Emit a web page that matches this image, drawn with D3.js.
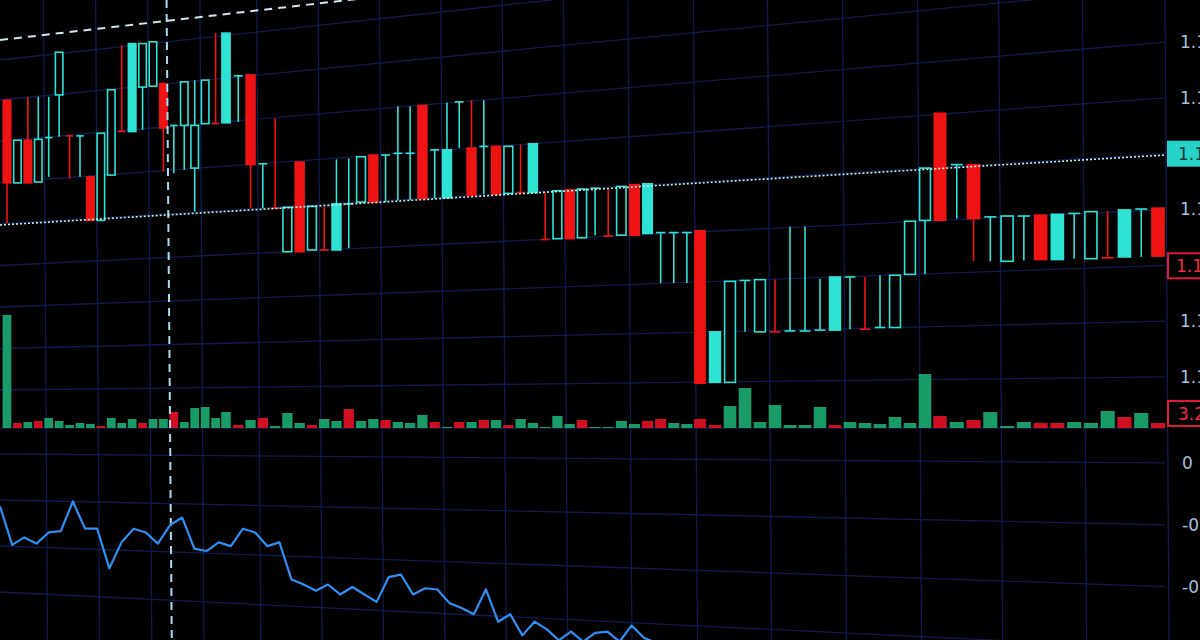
<!DOCTYPE html>
<html>
<head>
<meta charset="utf-8">
<script src="https://cdn.jsdelivr.net/npm/d3@7.9.0/dist/d3.min.js"></script>
<style>
  html, body { margin: 0; background: #000; overflow: hidden; }
  svg { display: block; }
</style>
</head>
<body>
<svg id="chart" width="1200" height="640"></svg>
<script>
// candles: [open, high, low, close]
const candles = [
  [1.1385,1.1385,1.1244,1.1290],[1.1290,1.1339,1.1290,1.1339],[1.1339,1.1389,1.1290,1.1290],[1.1291,1.1389,1.1291,1.1340],
  [1.1342,1.1389,1.1297,1.1342],[1.1391,1.1440,1.1343,1.1440],[1.1344,1.1344,1.1295,1.1344],[1.1344,1.1344,1.1297,1.1344],
  [1.1297,1.1297,1.1247,1.1247],[1.1247,1.1347,1.1247,1.1347],[1.1299,1.1397,1.1299,1.1397],[1.1349,1.1448,1.1349,1.1349],
  [1.1349,1.1450,1.1349,1.1450],[1.1400,1.1450,1.1351,1.1450],[1.1401,1.1452,1.1401,1.1452],[1.1404,1.1404,1.1303,1.1353],
  [1.1356,1.1356,1.1301,1.1356],[1.1356,1.1406,1.1305,1.1406],[1.1307,1.1408,1.1257,1.1356],[1.1358,1.1408,1.1358,1.1408],
  [1.1358,1.1462,1.1358,1.1358],[1.1359,1.1462,1.1359,1.1462],[1.1413,1.1413,1.1360,1.1413],[1.1414,1.1414,1.1261,1.1311],
  [1.1312,1.1312,1.1261,1.1312],[1.1261,1.1364,1.1261,1.1261],[1.1211,1.1262,1.1211,1.1262],[1.1314,1.1314,1.1211,1.1211],
  [1.1213,1.1263,1.1213,1.1263],[1.1213,1.1263,1.1213,1.1213],[1.1213,1.1317,1.1213,1.1266],[1.1266,1.1318,1.1215,1.1266],
  [1.1268,1.1320,1.1268,1.1320],[1.1322,1.1322,1.1268,1.1268],[1.1322,1.1322,1.1268,1.1322],[1.1324,1.1378,1.1270,1.1324],
  [1.1324,1.1378,1.1270,1.1324],[1.1379,1.1379,1.1272,1.1272],[1.1328,1.1328,1.1272,1.1328],[1.1273,1.1382,1.1273,1.1328],
  [1.1383,1.1383,1.1330,1.1383],[1.1330,1.1385,1.1276,1.1276],[1.1332,1.1385,1.1277,1.1332],[1.1332,1.1332,1.1277,1.1277],
  [1.1278,1.1332,1.1278,1.1332],[1.1279,1.1334,1.1279,1.1279],[1.1279,1.1335,1.1279,1.1335],[1.1225,1.1280,1.1225,1.1225],
  [1.1226,1.1281,1.1226,1.1281],[1.1282,1.1282,1.1226,1.1226],[1.1227,1.1283,1.1227,1.1283],[1.1284,1.1284,1.1230,1.1284],
  [1.1229,1.1284,1.1229,1.1229],[1.1230,1.1286,1.1230,1.1286],[1.1288,1.1288,1.1230,1.1230],[1.1232,1.1289,1.1232,1.1289],
  [1.1233,1.1233,1.1175,1.1233],[1.1233,1.1233,1.1175,1.1233],[1.1233,1.1233,1.1175,1.1233],[1.1235,1.1235,1.1060,1.1060],
  [1.1061,1.1119,1.1061,1.1119],[1.1061,1.1177,1.1061,1.1177],[1.1178,1.1178,1.1119,1.1178],[1.1119,1.1179,1.1119,1.1179],
  [1.1119,1.1179,1.1119,1.1119],[1.1120,1.1240,1.1120,1.1120],[1.1120,1.1240,1.1120,1.1120],[1.1121,1.1180,1.1121,1.1121],
  [1.1121,1.1182,1.1121,1.1182],[1.1182,1.1182,1.1122,1.1182],[1.1122,1.1182,1.1122,1.1122],[1.1124,1.1184,1.1124,1.1124],
  [1.1124,1.1184,1.1124,1.1184],[1.1185,1.1246,1.1185,1.1246],[1.1247,1.1307,1.1185,1.1307],[1.1370,1.1370,1.1247,1.1247],
  [1.1311,1.1311,1.1249,1.1311],[1.1311,1.1311,1.1200,1.1249],[1.1251,1.1251,1.1200,1.1251],[1.1200,1.1252,1.1200,1.1252],
  [1.1252,1.1252,1.1201,1.1252],[1.1253,1.1253,1.1202,1.1202],[1.1202,1.1254,1.1202,1.1254],[1.1255,1.1255,1.1203,1.1255],
  [1.1203,1.1257,1.1203,1.1257],[1.1204,1.1258,1.1204,1.1204],[1.1205,1.1259,1.1205,1.1259],[1.1260,1.1260,1.1205,1.1260],
  [1.1261,1.1261,1.1206,1.1206]
];
// U hollow up, F filled up, D down, T cyan doji, R red doji
const kinds = "DUDUTURTDUURFUUDTUUURFTDTRUDURFTUDTTTDTFTDTDURFRUDUTRUDFTTTDFUTURTTTFTRTUUUDTDTUTDFTURFTD";

const volumes = [
  113,5,6,7,10,7,3,5,4,2,10,5,9,5,9,9,16,6,20,21,10,16,3,8,10,2,15,5,3,9,7,19,7,9,8,6,5,13,6,1,6,6,8,8,3,9,5,1,12,4,8,1,
  1,7,4,7,9,5,4,9,3,22,40,6,23,3,3,21,3,6,5,4,11,5,54,12,6,8,16,2,6,5,5,6,5,17,11,15,5
];
const volumeDir = "GRGRGGGGGRGGGRGGRGGGGGRGRGGGRGGRGGRGGGRGRGRGRGGGGGRG" + "GGGRRGGRRGGGGGGGRGGGGGGRGRGGGRRGGGRGR";

const indicator = [-35,-66,-60,-65,-56,-55,-31,-53,-53,-85,-64,-53,-56,-65,-50,-44,-69,-71,-64,-67,-53,-56,-67,-64,
  -94,-98,-103,-98,-106,-100,-106,-112,-92,-90,-106,-101,-102,-113,-117,-122,-102,-128,-122,-139,-128,-134,-143,
  -136,-144,-137,-136,-144,-131,-141,-145];

const priceTicks = ["1.145","1.140","1.135","1.130","1.125","1.120","1.115"];
const indicatorTicks = ["0","-0.05","-0.10","-0.15"];
const lastPrice = "1.1350", currentPrice = "1.1250", volumeLabel = "3.2K";

const W = 1200, H = 640, axisX = 1165, horizon = 428;
const svg = d3.select('#chart');
const cyan = '#2fe3d3', red = '#ee1414', gridC = '#0f1b4d';

// perspective of the photo: lines spread away from the volume baseline to the right
const warp = (x, y) => horizon + (y - horizon) * (1 + x / 3380);

const x = d3.scaleLinear().domain([0, 21, 50, 59, 75, 88]).range([7, 226, 582, 700, 940, 1158]);
const step = i => x(i + 0.5) - x(i - 0.5);
const y = d3.scaleLinear().domain([1.15, 1.10]).range([0, 435.5]);
const gridY = d3.scaleLinear().domain([0, 6]).range([141, 390]);
const indGridY = d3.scaleLinear().domain([0, 3]).range([454, 592]);
const vol = d3.scaleLinear().domain([0, 100]).range([0, 100]);
const ix = d3.scaleLinear().domain([0, indicator.length - 1]).range([0, 656]);
const iy = d3.scaleLinear().domain([0, -100]).range([463, 587]);

// grid
const grid = svg.append('g').attr('stroke', gridC).attr('stroke-width', 1.3);
d3.range(-2, 90, 5).forEach(i => {
  const gx = x(i + 0.5);
  if (gx < axisX) grid.append('line').attr('x1', gx).attr('x2', gx + 4).attr('y1', 0).attr('y2', H);
});
grid.append('line').attr('x1', axisX).attr('x2', axisX + 4).attr('y1', 0).attr('y2', H);
const hLevels = [0, 1, 2, 3, 4, 5, 6].map(gridY).concat([0, 1, 2, 3].map(indGridY), [60, 100, 428]);
hLevels.forEach(v => {
  grid.append('line').attr('x1', 0).attr('x2', axisX).attr('y1', warp(0, v)).attr('y2', warp(axisX, v));
});

// volume
svg.append('g').selectAll('rect').data(volumes).join('rect')
  .attr('x', (d, i) => x(i) - step(i) * 0.42)
  .attr('width', (d, i) => step(i) * 0.84)
  .attr('y', d => horizon - vol(d))
  .attr('height', d => vol(d))
  .attr('fill', (d, i) => volumeDir[i] === 'G' ? '#1a9a66' : '#cf1024');

// candles
const cg = svg.append('g');
candles.forEach((c, i) => {
  const k = kinds[i], cx = x(i), w = step(i) * 0.72;
  const col = (k === 'D' || k === 'R') ? red : cyan;
  cg.append('line').attr('x1', cx).attr('x2', cx).attr('y1', y(c[1])).attr('y2', y(c[2]))
    .attr('stroke', col).attr('stroke-width', 1.6);
  if (k === 'T' || k === 'R') {
    cg.append('line').attr('x1', cx - w / 2).attr('x2', cx + w / 2).attr('y1', y(c[0])).attr('y2', y(c[0]))
      .attr('stroke', col).attr('stroke-width', 1.6);
  } else {
    const top = y(Math.max(c[0], c[3])), bot = y(Math.min(c[0], c[3]));
    cg.append('rect').attr('x', cx - w / 2).attr('width', w).attr('y', top).attr('height', bot - top)
      .attr('fill', k === 'U' ? '#000' : col).attr('stroke', col).attr('stroke-width', 1.6);
  }
});

// crosshair and price lines
svg.append('line').attr('x1', x(15.3)).attr('x2', x(15.8)).attr('y1', 0).attr('y2', H)
  .attr('stroke', '#a9dcf2').attr('stroke-width', 2).attr('stroke-dasharray', '8,6');
svg.append('line').attr('x1', 0).attr('x2', 400).attr('y1', warp(0, 40)).attr('y2', warp(400, 40))
  .attr('stroke', '#cfe6f2').attr('stroke-width', 2).attr('stroke-dasharray', '8,6');
svg.append('line').attr('x1', 0).attr('x2', axisX).attr('y1', warp(0, 225)).attr('y2', warp(axisX, 225))
  .attr('stroke', '#c4f2ea').attr('stroke-width', 1.6).attr('stroke-dasharray', '2,2');

// indicator line
svg.append('path').datum(indicator)
  .attr('d', d3.line().x((d, i) => ix(i)).y(d => iy(d)))
  .attr('fill', 'none').attr('stroke', '#2f8ff2').attr('stroke-width', 2.2).attr('stroke-linejoin', 'round');

// right axis labels (cut by the right edge, as in the photo)
const lab = svg.append('g').attr('font-family', 'DejaVu Sans, sans-serif').attr('font-size', 17);
priceTicks.forEach((t, i) => {
  const ly = warp(axisX, gridY(i));
  if (i === 2) {
    lab.append('rect').attr('x', axisX + 2).attr('y', ly - 13).attr('width', 40).attr('height', 26).attr('fill', '#27d2c6');
    lab.append('text').attr('x', 1178).attr('y', ly + 6).attr('fill', '#0b3b3a').text(lastPrice);
  } else if (i === 4) {
    lab.append('rect').attr('x', axisX + 3).attr('y', ly - 12).attr('width', 40).attr('height', 25)
      .attr('fill', 'none').attr('stroke', '#e0193a').attr('stroke-width', 2);
    lab.append('text').attr('x', 1176).attr('y', ly + 7).attr('fill', '#f0284a').text(currentPrice);
  } else {
    lab.append('text').attr('x', 1180).attr('y', ly + 6).attr('fill', '#a8bfdc').text(t);
  }
});
const vy = 413;
lab.append('rect').attr('x', axisX + 3).attr('y', vy - 12).attr('width', 40).attr('height', 25)
  .attr('fill', 'none').attr('stroke', '#e0193a').attr('stroke-width', 2);
lab.append('text').attr('x', 1178).attr('y', vy + 7).attr('fill', '#f0284a').text(volumeLabel);
indicatorTicks.forEach((t, i) => {
  lab.append('text').attr('x', 1182).attr('y', warp(axisX, indGridY(i)) + 6).attr('fill', '#a8bfdc').text(t);
});
</script>
</body>
</html>
